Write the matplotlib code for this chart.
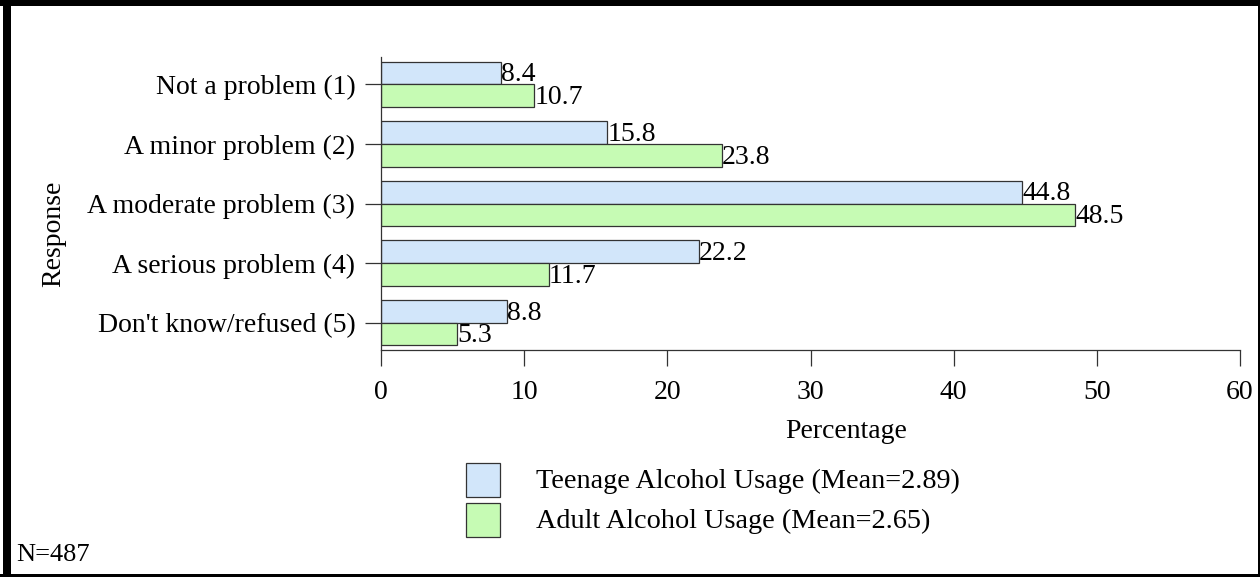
import matplotlib
matplotlib.use("Agg")
import matplotlib.pyplot as plt
from matplotlib.patches import Rectangle
import numpy as np

categories = ["Not a problem (1)", "A minor problem (2)", "A moderate problem (3)",
              "A serious problem (4)", "Don't know/refused (5)"]
teen = [8.4, 15.8, 44.8, 22.2, 8.8]
adult = [10.7, 23.8, 48.5, 11.7, 5.3]
series_names = ["Teenage Alcohol Usage (Mean=2.89)", "Adult Alcohol Usage (Mean=2.65)"]
x_ticks = [0, 10, 20, 30, 40, 50, 60]

plt.rcParams["font.family"] = ["Liberation Serif", "DejaVu Serif"]
FS = 20

fig = plt.figure(figsize=(12.6, 5.77), dpi=100)
W, H = 1260, 577

def fx(px):
    return px / W

def fy(py):
    return 1 - py / H

ax = fig.add_axes([fx(381), fy(350), fx(1240) - fx(381), fy(57) - fy(350)])

teen_c = "#D2E6FA"
adult_c = "#C6FBB4"
edge = "#333333"
bh = 0.38
y = np.arange(len(categories))
ax.barh(y - bh / 2, teen, height=bh, color=teen_c, edgecolor=edge, linewidth=0.9)
ax.barh(y + bh / 2, adult, height=bh, color=adult_c, edgecolor=edge, linewidth=0.9)

for yi, v in zip(y, teen):
    ax.text(v, yi - bh / 2 + 0.03, f"{v:.1f}", ha="left", va="center", fontsize=FS)
for yi, v in zip(y, adult):
    ax.text(v, yi + bh / 2 + 0.03, f"{v:.1f}", ha="left", va="center", fontsize=FS)

ax.set_xlim(0, 60)
ax.set_ylim(4.46, -0.46)
ax.set_yticks(y)
ax.set_yticklabels(categories, fontsize=FS)
ax.set_xticks(x_ticks)
ax.set_xticklabels([str(t) for t in x_ticks], fontsize=FS)
ax.tick_params(axis="both", direction="out", length=11.5, width=0.9, color="#333333")
ax.tick_params(axis="y", pad=7)
ax.tick_params(axis="x", pad=10)
for s in ["top", "right"]:
    ax.spines[s].set_visible(False)
for s in ["left", "bottom"]:
    ax.spines[s].set_color("#333333")
    ax.spines[s].set_linewidth(0.9)

fig.text(fx(846), fy(431), "Percentage", ha="center", va="center", fontsize=FS)
fig.text(fx(54), fy(234), "Response", ha="center", va="center", rotation=90, fontsize=FS)
fig.text(fx(16), fy(555), "N=487", ha="left", va="center", fontsize=FS - 1)

# legend drawn as swatches plus text
for i, (name, col) in enumerate(zip(series_names, [teen_c, adult_c])):
    top = 463 + i * 40
    fig.patches.append(Rectangle((fx(466), fy(top + 34)), fx(500) - fx(466), fy(top) - fy(top + 34),
                                 transform=fig.transFigure, facecolor=col, edgecolor=edge, linewidth=0.9))
    fig.text(fx(536), fy(top + 18), name, ha="left", va="center", fontsize=FS + 0.3)

# frame around the figure
fig.patches.append(Rectangle((0, fy(6)), 1, fy(0) - fy(6), transform=fig.transFigure,
                             facecolor="black", edgecolor="none"))
fig.patches.append(Rectangle((fx(3), 0), fx(11) - fx(3), 1, transform=fig.transFigure,
                             facecolor="black", edgecolor="none"))
fig.patches.append(Rectangle((fx(1258), 0), fx(2), 1, transform=fig.transFigure,
                             facecolor="black", edgecolor="none"))
fig.patches.append(Rectangle((0, 0), 1, fy(574), transform=fig.transFigure,
                             facecolor="black", edgecolor="none"))

fig.savefig("out.png", dpi=100)
